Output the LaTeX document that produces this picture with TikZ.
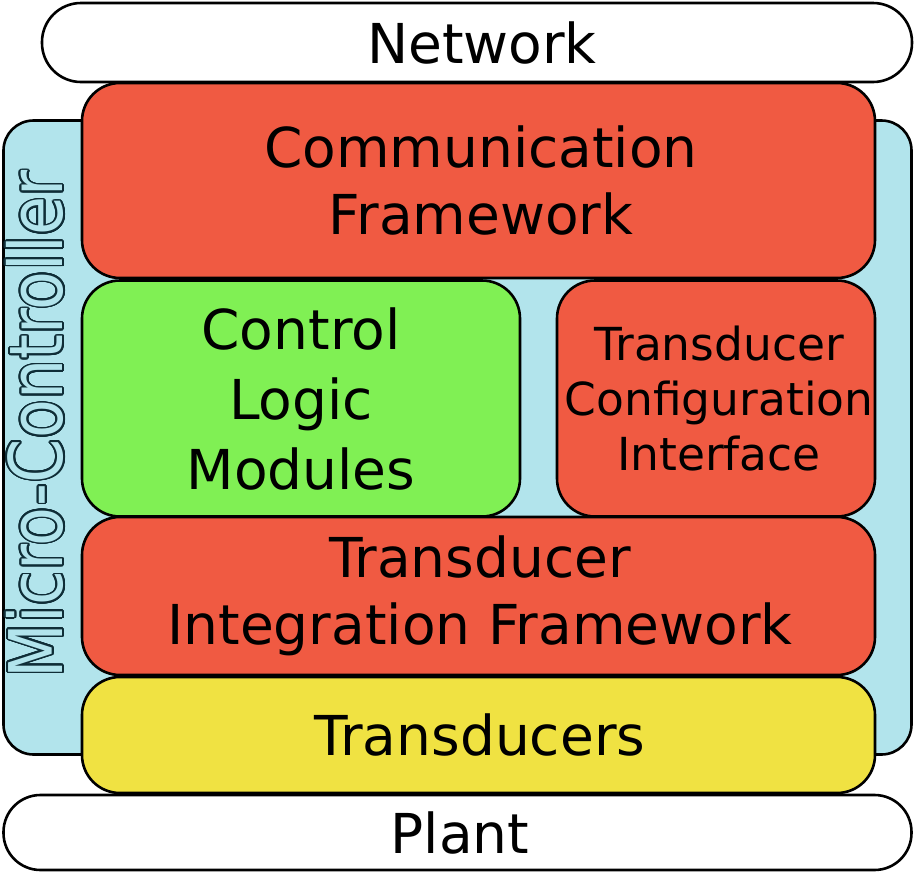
\documentclass[tikz,border=0pt]{standalone}
\usepackage{fontspec}
\usetikzlibrary{calc}
\setmainfont{DejaVu Sans}
\definecolor{layerred}{RGB}{240,90,66}
\definecolor{logicgreen}{RGB}{128,240,84}
\definecolor{sensoryellow}{RGB}{240,226,66}
\definecolor{mcublue}{RGB}{178,228,236}
\definecolor{outlinedark}{RGB}{15,45,55}
\tikzset{
  layer/.style={draw=black, line width=2.6pt, rounded corners=#1, inner sep=0pt, align=center},
  layer/.default=38pt,
  bigtext/.style={font=\fontsize{55}{67}\selectfont},
  smalltext/.style={font=\fontsize{45.5}{55}\selectfont},
  mcufont/.style={rotate=90, font=\fontsize{74}{74}\selectfont},
}
\newcommand{\mcuname}{\scalebox{0.858}[1]{Micro-Controller}}
\begin{document}
\begin{tikzpicture}[x=1pt,y=-1pt]
  \useasboundingbox (0,0) rectangle (914,873);

  % outer environment bars
  \node[layer=39pt, fill=white, minimum width=870pt, minimum height=79pt] (network) at (477,42.5) {};
  \node[bigtext] (networktext) at (482,42.5) {Network};

  % micro-controller body
  \node[layer=30pt, fill=mcublue, minimum width=908pt, minimum height=634pt] (mcu) at (457.5,437.5) {};

  % outlined vertical label: dark halo, then the light letters on top
  \foreach \a in {0,15,...,345}{
    \node[mcufont, text=outlinedark] at ($(35,424.5)+(\a:1.7pt)$) {\mcuname};
  }
  \node[mcufont, text=mcublue] (mcutext) at (35,424.5) {\mcuname};

  % software layers
  \node[layer, fill=layerred, minimum width=793pt, minimum height=195pt] (comm) at (478.5,180.5) {};
  \node[bigtext, align=center] at (481,180.5) {Communication\\Framework};

  \node[layer, fill=logicgreen, minimum width=438pt, minimum height=236pt] (logic) at (301,398.5) {};
  \node[align=center, font=\fontsize{55}{70}\selectfont] at (logic.center) {Control\\Logic\\Modules};

  \node[layer, fill=layerred, minimum width=318pt, minimum height=236pt] (config) at (716,398.5) {};
  \node[smalltext, align=center] at (719,398.5) {Transducer\\Configuration\\Interface};

  \node[layer, fill=layerred, minimum width=793pt, minimum height=158pt] (integ) at (478.5,596) {};
  \node[bigtext, align=center] at (480,596) {Transducer\\Integration Framework};

  \node[layer, fill=sensoryellow, minimum width=793pt, minimum height=116pt] (trans) at (478.5,735) {};
  \node[bigtext] at (480,735) {Transducers};

  \node[layer=37pt, fill=white, minimum width=908pt, minimum height=75pt] (plant) at (457.5,832.5) {};
  \node[bigtext] at (460,832.5) {Plant};
\end{tikzpicture}
\end{document}
